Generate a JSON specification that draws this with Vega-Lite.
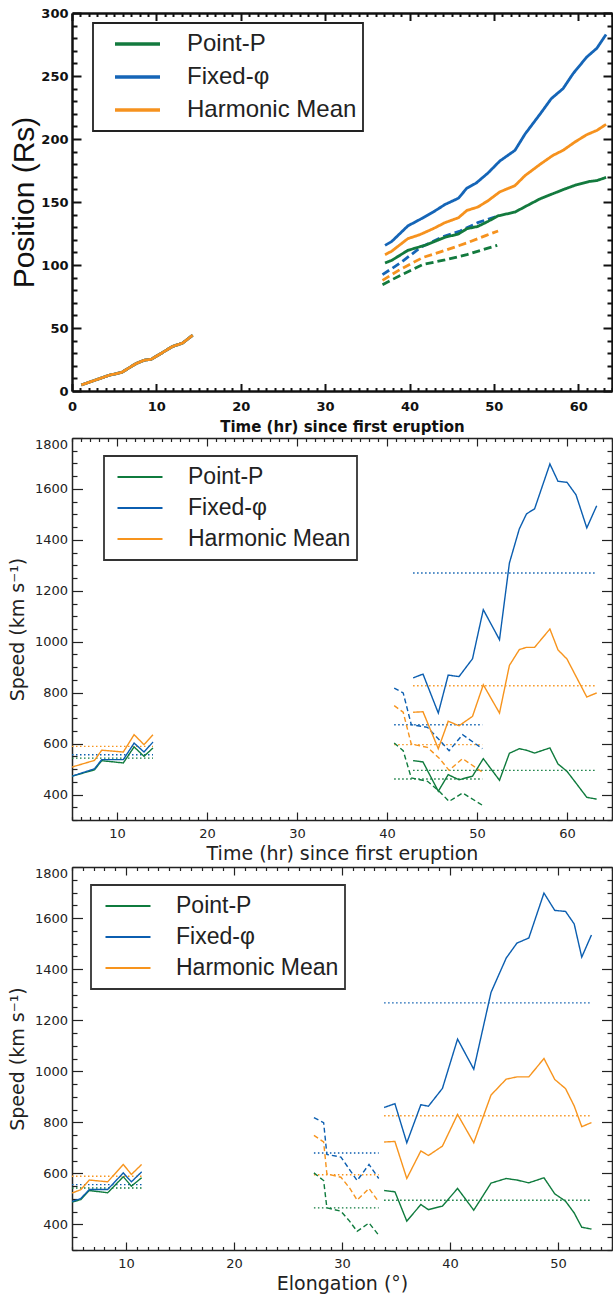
{
"$schema": "https://vega.github.io/schema/vega-lite/v6.json",
"padding": {"left": 8, "top": 7, "right": 0, "bottom": 0},
"spacing": 2,
"config": {"view": {"stroke": null}, "axis": {"grid": false}, "legend": {"strokeWidth": 1.8}},
"resolve": {"scale": {"color": "independent", "strokeDash": "independent"}},
"datasets": {
"p1": [
{"x":1.1,"y":4.8,"m":"Point-P","s":"solid","g":"e"},{"x":2.7,"y":8.5,"m":"Point-P","s":"solid","g":"e"},{"x":4.4,"y":12.5,"m":"Point-P","s":"solid","g":"e"},{"x":5.9,"y":14.8,"m":"Point-P","s":"solid","g":"e"},{"x":7.6,"y":21.8,"m":"Point-P","s":"solid","g":"e"},{"x":8.6,"y":24.5,"m":"Point-P","s":"solid","g":"e"},{"x":9.4,"y":25.2,"m":"Point-P","s":"solid","g":"e"},{"x":10.6,"y":30,"m":"Point-P","s":"solid","g":"e"},{"x":11.9,"y":35.3,"m":"Point-P","s":"solid","g":"e"},{"x":13.1,"y":38,"m":"Point-P","s":"solid","g":"e"},{"x":14.3,"y":44.3,"m":"Point-P","s":"solid","g":"e"},
{"x":1.1,"y":4.8,"m":"Fixed-φ","s":"solid","g":"e"},{"x":2.7,"y":8.5,"m":"Fixed-φ","s":"solid","g":"e"},{"x":4.4,"y":12.5,"m":"Fixed-φ","s":"solid","g":"e"},{"x":5.9,"y":14.8,"m":"Fixed-φ","s":"solid","g":"e"},{"x":7.6,"y":21.8,"m":"Fixed-φ","s":"solid","g":"e"},{"x":8.6,"y":24.5,"m":"Fixed-φ","s":"solid","g":"e"},{"x":9.4,"y":25.2,"m":"Fixed-φ","s":"solid","g":"e"},{"x":10.6,"y":30,"m":"Fixed-φ","s":"solid","g":"e"},{"x":11.9,"y":35.3,"m":"Fixed-φ","s":"solid","g":"e"},{"x":13.1,"y":38,"m":"Fixed-φ","s":"solid","g":"e"},{"x":14.3,"y":44.3,"m":"Fixed-φ","s":"solid","g":"e"},
{"x":1.1,"y":4.8,"m":"Harmonic Mean","s":"solid","g":"e"},{"x":2.7,"y":8.5,"m":"Harmonic Mean","s":"solid","g":"e"},{"x":4.4,"y":12.5,"m":"Harmonic Mean","s":"solid","g":"e"},{"x":5.9,"y":14.8,"m":"Harmonic Mean","s":"solid","g":"e"},{"x":7.6,"y":21.8,"m":"Harmonic Mean","s":"solid","g":"e"},{"x":8.6,"y":24.5,"m":"Harmonic Mean","s":"solid","g":"e"},{"x":9.4,"y":25.2,"m":"Harmonic Mean","s":"solid","g":"e"},{"x":10.6,"y":30,"m":"Harmonic Mean","s":"solid","g":"e"},{"x":11.9,"y":35.3,"m":"Harmonic Mean","s":"solid","g":"e"},{"x":13.1,"y":38,"m":"Harmonic Mean","s":"solid","g":"e"},{"x":14.3,"y":44.3,"m":"Harmonic Mean","s":"solid","g":"e"},
{"x":36.8,"y":84.4,"m":"Point-P","s":"dashed","g":"d"},{"x":38.9,"y":91.7,"m":"Point-P","s":"dashed","g":"d"},{"x":41.6,"y":100.5,"m":"Point-P","s":"dashed","g":"d"},{"x":44.2,"y":104,"m":"Point-P","s":"dashed","g":"d"},{"x":46.8,"y":108.2,"m":"Point-P","s":"dashed","g":"d"},{"x":49.1,"y":113,"m":"Point-P","s":"dashed","g":"d"},{"x":50.4,"y":115.6,"m":"Point-P","s":"dashed","g":"d"},
{"x":36.8,"y":92.3,"m":"Fixed-φ","s":"dashed","g":"d"},{"x":38.9,"y":101.6,"m":"Fixed-φ","s":"dashed","g":"d"},{"x":41.4,"y":114.3,"m":"Fixed-φ","s":"dashed","g":"d"},{"x":43.8,"y":122,"m":"Fixed-φ","s":"dashed","g":"d"},{"x":46.0,"y":127,"m":"Fixed-φ","s":"dashed","g":"d"},{"x":48.1,"y":133.6,"m":"Fixed-φ","s":"dashed","g":"d"},{"x":50.5,"y":139,"m":"Fixed-φ","s":"dashed","g":"d"},
{"x":36.8,"y":87.8,"m":"Harmonic Mean","s":"dashed","g":"d"},{"x":38.9,"y":96.5,"m":"Harmonic Mean","s":"dashed","g":"d"},{"x":41.6,"y":106,"m":"Harmonic Mean","s":"dashed","g":"d"},{"x":44.2,"y":111.6,"m":"Harmonic Mean","s":"dashed","g":"d"},{"x":46.8,"y":117.5,"m":"Harmonic Mean","s":"dashed","g":"d"},{"x":49.1,"y":123.5,"m":"Harmonic Mean","s":"dashed","g":"d"},{"x":50.5,"y":127,"m":"Harmonic Mean","s":"dashed","g":"d"},
{"x":37.1,"y":101.6,"m":"Point-P","s":"solid","g":"l"},{"x":37.9,"y":103.7,"m":"Point-P","s":"solid","g":"l"},{"x":39.8,"y":111.6,"m":"Point-P","s":"solid","g":"l"},{"x":42.0,"y":116,"m":"Point-P","s":"solid","g":"l"},{"x":44.2,"y":122,"m":"Point-P","s":"solid","g":"l"},{"x":45.8,"y":124.6,"m":"Point-P","s":"solid","g":"l"},{"x":46.8,"y":128.8,"m":"Point-P","s":"solid","g":"l"},{"x":48.1,"y":130.6,"m":"Point-P","s":"solid","g":"l"},{"x":49.3,"y":134.6,"m":"Point-P","s":"solid","g":"l"},{"x":50.5,"y":139,"m":"Point-P","s":"solid","g":"l"},{"x":52.5,"y":142,"m":"Point-P","s":"solid","g":"l"},{"x":53.9,"y":147,"m":"Point-P","s":"solid","g":"l"},{"x":55.5,"y":152.6,"m":"Point-P","s":"solid","g":"l"},{"x":57.0,"y":156.6,"m":"Point-P","s":"solid","g":"l"},{"x":58.2,"y":159.8,"m":"Point-P","s":"solid","g":"l"},{"x":59.8,"y":163.7,"m":"Point-P","s":"solid","g":"l"},{"x":61.3,"y":166.3,"m":"Point-P","s":"solid","g":"l"},{"x":62.2,"y":167,"m":"Point-P","s":"solid","g":"l"},{"x":63.3,"y":169.5,"m":"Point-P","s":"solid","g":"l"},
{"x":37.1,"y":115.6,"m":"Fixed-φ","s":"solid","g":"l"},{"x":37.9,"y":118.7,"m":"Fixed-φ","s":"solid","g":"l"},{"x":39.8,"y":131,"m":"Fixed-φ","s":"solid","g":"l"},{"x":41.2,"y":136,"m":"Fixed-φ","s":"solid","g":"l"},{"x":42.8,"y":142,"m":"Fixed-φ","s":"solid","g":"l"},{"x":44.2,"y":148,"m":"Fixed-φ","s":"solid","g":"l"},{"x":45.8,"y":153,"m":"Fixed-φ","s":"solid","g":"l"},{"x":46.8,"y":161,"m":"Fixed-φ","s":"solid","g":"l"},{"x":47.9,"y":165,"m":"Fixed-φ","s":"solid","g":"l"},{"x":49.3,"y":173,"m":"Fixed-φ","s":"solid","g":"l"},{"x":50.7,"y":182.5,"m":"Fixed-φ","s":"solid","g":"l"},{"x":52.5,"y":191,"m":"Fixed-φ","s":"solid","g":"l"},{"x":53.7,"y":204,"m":"Fixed-φ","s":"solid","g":"l"},{"x":55.5,"y":220,"m":"Fixed-φ","s":"solid","g":"l"},{"x":56.8,"y":232,"m":"Fixed-φ","s":"solid","g":"l"},{"x":58.2,"y":240,"m":"Fixed-φ","s":"solid","g":"l"},{"x":59.4,"y":252,"m":"Fixed-φ","s":"solid","g":"l"},{"x":61.0,"y":265,"m":"Fixed-φ","s":"solid","g":"l"},{"x":62.2,"y":272,"m":"Fixed-φ","s":"solid","g":"l"},{"x":63.3,"y":283,"m":"Fixed-φ","s":"solid","g":"l"},
{"x":37.1,"y":108.2,"m":"Harmonic Mean","s":"solid","g":"l"},{"x":37.9,"y":111,"m":"Harmonic Mean","s":"solid","g":"l"},{"x":39.8,"y":120.9,"m":"Harmonic Mean","s":"solid","g":"l"},{"x":41.2,"y":124,"m":"Harmonic Mean","s":"solid","g":"l"},{"x":42.8,"y":128.8,"m":"Harmonic Mean","s":"solid","g":"l"},{"x":44.2,"y":133.6,"m":"Harmonic Mean","s":"solid","g":"l"},{"x":45.8,"y":137.5,"m":"Harmonic Mean","s":"solid","g":"l"},{"x":46.8,"y":143.3,"m":"Harmonic Mean","s":"solid","g":"l"},{"x":48.1,"y":146,"m":"Harmonic Mean","s":"solid","g":"l"},{"x":49.3,"y":151,"m":"Harmonic Mean","s":"solid","g":"l"},{"x":50.7,"y":158,"m":"Harmonic Mean","s":"solid","g":"l"},{"x":52.5,"y":163,"m":"Harmonic Mean","s":"solid","g":"l"},{"x":53.7,"y":171,"m":"Harmonic Mean","s":"solid","g":"l"},{"x":55.5,"y":180,"m":"Harmonic Mean","s":"solid","g":"l"},{"x":57.0,"y":187,"m":"Harmonic Mean","s":"solid","g":"l"},{"x":58.2,"y":191,"m":"Harmonic Mean","s":"solid","g":"l"},{"x":59.6,"y":197.6,"m":"Harmonic Mean","s":"solid","g":"l"},{"x":61.0,"y":203.4,"m":"Harmonic Mean","s":"solid","g":"l"},{"x":62.2,"y":206.8,"m":"Harmonic Mean","s":"solid","g":"l"},{"x":63.3,"y":211.6,"m":"Harmonic Mean","s":"solid","g":"l"}
],
"p2": [
{"x":5,"y":543,"m":"Point-P","s":"dotted","g":"ea"},{"x":14,"y":543,"m":"Point-P","s":"dotted","g":"ea"},
{"x":5,"y":556,"m":"Fixed-φ","s":"dotted","g":"ea"},{"x":14,"y":556,"m":"Fixed-φ","s":"dotted","g":"ea"},
{"x":5,"y":589,"m":"Harmonic Mean","s":"dotted","g":"ea"},{"x":14,"y":589,"m":"Harmonic Mean","s":"dotted","g":"ea"},
{"x":40.8,"y":461,"m":"Point-P","s":"dotted","g":"da"},{"x":50.6,"y":461,"m":"Point-P","s":"dotted","g":"da"},
{"x":40.8,"y":674,"m":"Fixed-φ","s":"dotted","g":"da"},{"x":50.6,"y":674,"m":"Fixed-φ","s":"dotted","g":"da"},
{"x":40.8,"y":596,"m":"Harmonic Mean","s":"dotted","g":"da"},{"x":50.6,"y":596,"m":"Harmonic Mean","s":"dotted","g":"da"},
{"x":42.9,"y":495,"m":"Point-P","s":"dotted","g":"la"},{"x":63.3,"y":495,"m":"Point-P","s":"dotted","g":"la"},
{"x":42.9,"y":1270,"m":"Fixed-φ","s":"dotted","g":"la"},{"x":63.3,"y":1270,"m":"Fixed-φ","s":"dotted","g":"la"},
{"x":42.9,"y":827,"m":"Harmonic Mean","s":"dotted","g":"la"},{"x":63.3,"y":827,"m":"Harmonic Mean","s":"dotted","g":"la"},
{"x":5.0,"y":472,"m":"Point-P","s":"solid","g":"e"},{"x":7.5,"y":497,"m":"Point-P","s":"solid","g":"e"},{"x":8.3,"y":533,"m":"Point-P","s":"solid","g":"e"},{"x":10.7,"y":524,"m":"Point-P","s":"solid","g":"e"},{"x":11.9,"y":587,"m":"Point-P","s":"solid","g":"e"},{"x":13.0,"y":550,"m":"Point-P","s":"solid","g":"e"},{"x":14.0,"y":583,"m":"Point-P","s":"solid","g":"e"},
{"x":5.0,"y":472,"m":"Fixed-φ","s":"solid","g":"e"},{"x":7.5,"y":501,"m":"Fixed-φ","s":"solid","g":"e"},{"x":8.3,"y":537,"m":"Fixed-φ","s":"solid","g":"e"},{"x":10.7,"y":537,"m":"Fixed-φ","s":"solid","g":"e"},{"x":11.9,"y":602,"m":"Fixed-φ","s":"solid","g":"e"},{"x":13.0,"y":567,"m":"Fixed-φ","s":"solid","g":"e"},{"x":14.0,"y":606,"m":"Fixed-φ","s":"solid","g":"e"},
{"x":5.0,"y":508,"m":"Harmonic Mean","s":"solid","g":"e"},{"x":7.5,"y":534,"m":"Harmonic Mean","s":"solid","g":"e"},{"x":8.3,"y":574,"m":"Harmonic Mean","s":"solid","g":"e"},{"x":10.7,"y":567,"m":"Harmonic Mean","s":"solid","g":"e"},{"x":11.9,"y":635,"m":"Harmonic Mean","s":"solid","g":"e"},{"x":13.0,"y":596,"m":"Harmonic Mean","s":"solid","g":"e"},{"x":14.0,"y":635,"m":"Harmonic Mean","s":"solid","g":"e"},
{"x":40.8,"y":602,"m":"Point-P","s":"dashed","g":"d"},{"x":41.8,"y":572,"m":"Point-P","s":"dashed","g":"d"},{"x":42.7,"y":465,"m":"Point-P","s":"dashed","g":"d"},{"x":44.5,"y":452,"m":"Point-P","s":"dashed","g":"d"},{"x":45.8,"y":413,"m":"Point-P","s":"dashed","g":"d"},{"x":46.9,"y":373,"m":"Point-P","s":"dashed","g":"d"},{"x":48.4,"y":406,"m":"Point-P","s":"dashed","g":"d"},{"x":50.6,"y":358,"m":"Point-P","s":"dashed","g":"d"},
{"x":40.8,"y":818,"m":"Fixed-φ","s":"dashed","g":"d"},{"x":41.8,"y":799,"m":"Fixed-φ","s":"dashed","g":"d"},{"x":42.7,"y":674,"m":"Fixed-φ","s":"dashed","g":"d"},{"x":44.5,"y":664,"m":"Fixed-φ","s":"dashed","g":"d"},{"x":45.8,"y":615,"m":"Fixed-φ","s":"dashed","g":"d"},{"x":46.9,"y":572,"m":"Fixed-φ","s":"dashed","g":"d"},{"x":48.4,"y":635,"m":"Fixed-φ","s":"dashed","g":"d"},{"x":50.6,"y":580,"m":"Fixed-φ","s":"dashed","g":"d"},
{"x":40.8,"y":749,"m":"Harmonic Mean","s":"dashed","g":"d"},{"x":41.8,"y":723,"m":"Harmonic Mean","s":"dashed","g":"d"},{"x":42.7,"y":598,"m":"Harmonic Mean","s":"dashed","g":"d"},{"x":44.5,"y":585,"m":"Harmonic Mean","s":"dashed","g":"d"},{"x":45.8,"y":543,"m":"Harmonic Mean","s":"dashed","g":"d"},{"x":46.9,"y":495,"m":"Harmonic Mean","s":"dashed","g":"d"},{"x":48.4,"y":541,"m":"Harmonic Mean","s":"dashed","g":"d"},{"x":50.6,"y":488,"m":"Harmonic Mean","s":"dashed","g":"d"},
{"x":42.9,"y":533,"m":"Point-P","s":"solid","g":"l"},{"x":44.0,"y":528,"m":"Point-P","s":"solid","g":"l"},{"x":45.7,"y":413,"m":"Point-P","s":"solid","g":"l"},{"x":46.8,"y":478,"m":"Point-P","s":"solid","g":"l"},{"x":48.0,"y":458,"m":"Point-P","s":"solid","g":"l"},{"x":49.5,"y":472,"m":"Point-P","s":"solid","g":"l"},{"x":50.7,"y":541,"m":"Point-P","s":"solid","g":"l"},{"x":52.5,"y":456,"m":"Point-P","s":"solid","g":"l"},{"x":53.6,"y":562,"m":"Point-P","s":"solid","g":"l"},{"x":54.7,"y":580,"m":"Point-P","s":"solid","g":"l"},{"x":55.5,"y":574,"m":"Point-P","s":"solid","g":"l"},{"x":56.4,"y":563,"m":"Point-P","s":"solid","g":"l"},{"x":58.1,"y":583,"m":"Point-P","s":"solid","g":"l"},{"x":59.0,"y":520,"m":"Point-P","s":"solid","g":"l"},{"x":60.0,"y":491,"m":"Point-P","s":"solid","g":"l"},{"x":61.0,"y":445,"m":"Point-P","s":"solid","g":"l"},{"x":62.2,"y":389,"m":"Point-P","s":"solid","g":"l"},{"x":63.3,"y":382,"m":"Point-P","s":"solid","g":"l"},
{"x":42.9,"y":858,"m":"Fixed-φ","s":"solid","g":"l"},{"x":44.0,"y":873,"m":"Fixed-φ","s":"solid","g":"l"},{"x":45.7,"y":720,"m":"Fixed-φ","s":"solid","g":"l"},{"x":46.8,"y":869,"m":"Fixed-φ","s":"solid","g":"l"},{"x":48.0,"y":863,"m":"Fixed-φ","s":"solid","g":"l"},{"x":49.5,"y":933,"m":"Fixed-φ","s":"solid","g":"l"},{"x":50.7,"y":1126,"m":"Fixed-φ","s":"solid","g":"l"},{"x":52.5,"y":1008,"m":"Fixed-φ","s":"solid","g":"l"},{"x":53.6,"y":1309,"m":"Fixed-φ","s":"solid","g":"l"},{"x":54.7,"y":1443,"m":"Fixed-φ","s":"solid","g":"l"},{"x":55.5,"y":1502,"m":"Fixed-φ","s":"solid","g":"l"},{"x":56.4,"y":1522,"m":"Fixed-φ","s":"solid","g":"l"},{"x":58.1,"y":1698,"m":"Fixed-φ","s":"solid","g":"l"},{"x":59.0,"y":1630,"m":"Fixed-φ","s":"solid","g":"l"},{"x":60.0,"y":1626,"m":"Fixed-φ","s":"solid","g":"l"},{"x":61.0,"y":1577,"m":"Fixed-φ","s":"solid","g":"l"},{"x":62.2,"y":1447,"m":"Fixed-φ","s":"solid","g":"l"},{"x":63.3,"y":1534,"m":"Fixed-φ","s":"solid","g":"l"},
{"x":42.9,"y":723,"m":"Harmonic Mean","s":"solid","g":"l"},{"x":44.0,"y":725,"m":"Harmonic Mean","s":"solid","g":"l"},{"x":45.7,"y":580,"m":"Harmonic Mean","s":"solid","g":"l"},{"x":46.8,"y":688,"m":"Harmonic Mean","s":"solid","g":"l"},{"x":48.0,"y":670,"m":"Harmonic Mean","s":"solid","g":"l"},{"x":49.5,"y":707,"m":"Harmonic Mean","s":"solid","g":"l"},{"x":50.7,"y":831,"m":"Harmonic Mean","s":"solid","g":"l"},{"x":52.5,"y":720,"m":"Harmonic Mean","s":"solid","g":"l"},{"x":53.6,"y":907,"m":"Harmonic Mean","s":"solid","g":"l"},{"x":54.7,"y":969,"m":"Harmonic Mean","s":"solid","g":"l"},{"x":55.5,"y":978,"m":"Harmonic Mean","s":"solid","g":"l"},{"x":56.4,"y":978,"m":"Harmonic Mean","s":"solid","g":"l"},{"x":58.1,"y":1050,"m":"Harmonic Mean","s":"solid","g":"l"},{"x":59.0,"y":968,"m":"Harmonic Mean","s":"solid","g":"l"},{"x":60.0,"y":932,"m":"Harmonic Mean","s":"solid","g":"l"},{"x":61.0,"y":864,"m":"Harmonic Mean","s":"solid","g":"l"},{"x":62.2,"y":783,"m":"Harmonic Mean","s":"solid","g":"l"},{"x":63.3,"y":799,"m":"Harmonic Mean","s":"solid","g":"l"}
],
"p3": [
{"x":5,"y":543,"m":"Point-P","s":"dotted","g":"ea"},{"x":11.45,"y":543,"m":"Point-P","s":"dotted","g":"ea"},
{"x":5,"y":556,"m":"Fixed-φ","s":"dotted","g":"ea"},{"x":11.45,"y":556,"m":"Fixed-φ","s":"dotted","g":"ea"},
{"x":5,"y":589,"m":"Harmonic Mean","s":"dotted","g":"ea"},{"x":11.45,"y":589,"m":"Harmonic Mean","s":"dotted","g":"ea"},
{"x":27.4,"y":465,"m":"Point-P","s":"dotted","g":"da"},{"x":33.4,"y":465,"m":"Point-P","s":"dotted","g":"da"},
{"x":27.4,"y":680,"m":"Fixed-φ","s":"dotted","g":"da"},{"x":33.4,"y":680,"m":"Fixed-φ","s":"dotted","g":"da"},
{"x":27.4,"y":595,"m":"Harmonic Mean","s":"dotted","g":"da"},{"x":33.4,"y":595,"m":"Harmonic Mean","s":"dotted","g":"da"},
{"x":33.9,"y":495,"m":"Point-P","s":"dotted","g":"la"},{"x":53.1,"y":495,"m":"Point-P","s":"dotted","g":"la"},
{"x":33.9,"y":1268,"m":"Fixed-φ","s":"dotted","g":"la"},{"x":53.1,"y":1268,"m":"Fixed-φ","s":"dotted","g":"la"},
{"x":33.9,"y":826,"m":"Harmonic Mean","s":"dotted","g":"la"},{"x":53.1,"y":826,"m":"Harmonic Mean","s":"dotted","g":"la"},
{"x":5.0,"y":488,"m":"Point-P","s":"solid","g":"e"},{"x":5.8,"y":497,"m":"Point-P","s":"solid","g":"e"},{"x":6.6,"y":533,"m":"Point-P","s":"solid","g":"e"},{"x":8.3,"y":524,"m":"Point-P","s":"solid","g":"e"},{"x":9.75,"y":587,"m":"Point-P","s":"solid","g":"e"},{"x":10.5,"y":550,"m":"Point-P","s":"solid","g":"e"},{"x":11.45,"y":583,"m":"Point-P","s":"solid","g":"e"},
{"x":5.0,"y":490,"m":"Fixed-φ","s":"solid","g":"e"},{"x":5.8,"y":501,"m":"Fixed-φ","s":"solid","g":"e"},{"x":6.6,"y":537,"m":"Fixed-φ","s":"solid","g":"e"},{"x":8.3,"y":537,"m":"Fixed-φ","s":"solid","g":"e"},{"x":9.75,"y":602,"m":"Fixed-φ","s":"solid","g":"e"},{"x":10.5,"y":567,"m":"Fixed-φ","s":"solid","g":"e"},{"x":11.45,"y":606,"m":"Fixed-φ","s":"solid","g":"e"},
{"x":5.0,"y":523,"m":"Harmonic Mean","s":"solid","g":"e"},{"x":5.8,"y":536,"m":"Harmonic Mean","s":"solid","g":"e"},{"x":6.6,"y":574,"m":"Harmonic Mean","s":"solid","g":"e"},{"x":8.3,"y":567,"m":"Harmonic Mean","s":"solid","g":"e"},{"x":9.75,"y":635,"m":"Harmonic Mean","s":"solid","g":"e"},{"x":10.5,"y":596,"m":"Harmonic Mean","s":"solid","g":"e"},{"x":11.45,"y":635,"m":"Harmonic Mean","s":"solid","g":"e"},
{"x":27.4,"y":602,"m":"Point-P","s":"dashed","g":"d"},{"x":28.3,"y":572,"m":"Point-P","s":"dashed","g":"d"},{"x":28.6,"y":465,"m":"Point-P","s":"dashed","g":"d"},{"x":29.9,"y":452,"m":"Point-P","s":"dashed","g":"d"},{"x":30.7,"y":413,"m":"Point-P","s":"dashed","g":"d"},{"x":31.4,"y":373,"m":"Point-P","s":"dashed","g":"d"},{"x":32.5,"y":406,"m":"Point-P","s":"dashed","g":"d"},{"x":33.4,"y":358,"m":"Point-P","s":"dashed","g":"d"},
{"x":27.4,"y":818,"m":"Fixed-φ","s":"dashed","g":"d"},{"x":28.3,"y":799,"m":"Fixed-φ","s":"dashed","g":"d"},{"x":28.6,"y":674,"m":"Fixed-φ","s":"dashed","g":"d"},{"x":29.9,"y":664,"m":"Fixed-φ","s":"dashed","g":"d"},{"x":30.7,"y":615,"m":"Fixed-φ","s":"dashed","g":"d"},{"x":31.4,"y":572,"m":"Fixed-φ","s":"dashed","g":"d"},{"x":32.5,"y":635,"m":"Fixed-φ","s":"dashed","g":"d"},{"x":33.4,"y":580,"m":"Fixed-φ","s":"dashed","g":"d"},
{"x":27.4,"y":749,"m":"Harmonic Mean","s":"dashed","g":"d"},{"x":28.3,"y":723,"m":"Harmonic Mean","s":"dashed","g":"d"},{"x":28.6,"y":598,"m":"Harmonic Mean","s":"dashed","g":"d"},{"x":29.9,"y":585,"m":"Harmonic Mean","s":"dashed","g":"d"},{"x":30.7,"y":543,"m":"Harmonic Mean","s":"dashed","g":"d"},{"x":31.4,"y":495,"m":"Harmonic Mean","s":"dashed","g":"d"},{"x":32.5,"y":541,"m":"Harmonic Mean","s":"dashed","g":"d"},{"x":33.4,"y":488,"m":"Harmonic Mean","s":"dashed","g":"d"},
{"x":33.9,"y":533,"m":"Point-P","s":"solid","g":"l"},{"x":34.9,"y":528,"m":"Point-P","s":"solid","g":"l"},{"x":36.0,"y":413,"m":"Point-P","s":"solid","g":"l"},{"x":37.3,"y":478,"m":"Point-P","s":"solid","g":"l"},{"x":38.0,"y":458,"m":"Point-P","s":"solid","g":"l"},{"x":39.3,"y":472,"m":"Point-P","s":"solid","g":"l"},{"x":40.7,"y":541,"m":"Point-P","s":"solid","g":"l"},{"x":42.2,"y":456,"m":"Point-P","s":"solid","g":"l"},{"x":43.8,"y":562,"m":"Point-P","s":"solid","g":"l"},{"x":45.2,"y":580,"m":"Point-P","s":"solid","g":"l"},{"x":46.2,"y":574,"m":"Point-P","s":"solid","g":"l"},{"x":47.3,"y":563,"m":"Point-P","s":"solid","g":"l"},{"x":48.7,"y":583,"m":"Point-P","s":"solid","g":"l"},{"x":49.7,"y":520,"m":"Point-P","s":"solid","g":"l"},{"x":50.7,"y":491,"m":"Point-P","s":"solid","g":"l"},{"x":51.5,"y":445,"m":"Point-P","s":"solid","g":"l"},{"x":52.2,"y":389,"m":"Point-P","s":"solid","g":"l"},{"x":53.1,"y":382,"m":"Point-P","s":"solid","g":"l"},
{"x":33.9,"y":858,"m":"Fixed-φ","s":"solid","g":"l"},{"x":34.9,"y":873,"m":"Fixed-φ","s":"solid","g":"l"},{"x":36.0,"y":720,"m":"Fixed-φ","s":"solid","g":"l"},{"x":37.3,"y":869,"m":"Fixed-φ","s":"solid","g":"l"},{"x":38.0,"y":863,"m":"Fixed-φ","s":"solid","g":"l"},{"x":39.3,"y":933,"m":"Fixed-φ","s":"solid","g":"l"},{"x":40.7,"y":1126,"m":"Fixed-φ","s":"solid","g":"l"},{"x":42.2,"y":1008,"m":"Fixed-φ","s":"solid","g":"l"},{"x":43.8,"y":1309,"m":"Fixed-φ","s":"solid","g":"l"},{"x":45.2,"y":1443,"m":"Fixed-φ","s":"solid","g":"l"},{"x":46.2,"y":1502,"m":"Fixed-φ","s":"solid","g":"l"},{"x":47.3,"y":1522,"m":"Fixed-φ","s":"solid","g":"l"},{"x":48.7,"y":1698,"m":"Fixed-φ","s":"solid","g":"l"},{"x":49.7,"y":1630,"m":"Fixed-φ","s":"solid","g":"l"},{"x":50.7,"y":1626,"m":"Fixed-φ","s":"solid","g":"l"},{"x":51.5,"y":1577,"m":"Fixed-φ","s":"solid","g":"l"},{"x":52.2,"y":1447,"m":"Fixed-φ","s":"solid","g":"l"},{"x":53.1,"y":1534,"m":"Fixed-φ","s":"solid","g":"l"},
{"x":33.9,"y":723,"m":"Harmonic Mean","s":"solid","g":"l"},{"x":34.9,"y":725,"m":"Harmonic Mean","s":"solid","g":"l"},{"x":36.0,"y":580,"m":"Harmonic Mean","s":"solid","g":"l"},{"x":37.3,"y":688,"m":"Harmonic Mean","s":"solid","g":"l"},{"x":38.0,"y":670,"m":"Harmonic Mean","s":"solid","g":"l"},{"x":39.3,"y":707,"m":"Harmonic Mean","s":"solid","g":"l"},{"x":40.7,"y":831,"m":"Harmonic Mean","s":"solid","g":"l"},{"x":42.2,"y":720,"m":"Harmonic Mean","s":"solid","g":"l"},{"x":43.8,"y":907,"m":"Harmonic Mean","s":"solid","g":"l"},{"x":45.2,"y":969,"m":"Harmonic Mean","s":"solid","g":"l"},{"x":46.2,"y":978,"m":"Harmonic Mean","s":"solid","g":"l"},{"x":47.3,"y":978,"m":"Harmonic Mean","s":"solid","g":"l"},{"x":48.7,"y":1050,"m":"Harmonic Mean","s":"solid","g":"l"},{"x":49.7,"y":968,"m":"Harmonic Mean","s":"solid","g":"l"},{"x":50.7,"y":932,"m":"Harmonic Mean","s":"solid","g":"l"},{"x":51.5,"y":864,"m":"Harmonic Mean","s":"solid","g":"l"},{"x":52.2,"y":783,"m":"Harmonic Mean","s":"solid","g":"l"},{"x":53.1,"y":799,"m":"Harmonic Mean","s":"solid","g":"l"}
]
},
"vconcat": [
{
"width": 540, "height": 378,
"data": {"name": "p1"},
"layer": [
{
"mark": {"type": "line", "strokeWidth": 2.8, "clip": true},
"encoding": {
"x": {"field": "x", "type": "quantitative", "scale": {"domain": [0, 64], "nice": false, "zero": false},
 "axis": {"orient": "bottom", "values": [0,1,2,3,4,5,6,7,8,9,10,11,12,13,14,15,16,17,18,19,20,21,22,23,24,25,26,27,28,29,30,31,32,33,34,35,36,37,38,39,40,41,42,43,44,45,46,47,48,49,50,51,52,53,54,55,56,57,58,59,60,61,62,63,64],
  "format": "d", "labelExpr": "datum.value % 10 === 0 ? datum.label : ''", "labelOverlap": false, "labelFlush": false,
  "tickSize": {"condition": {"test": "datum.value % 10 === 0", "value": -7.5}, "value": -3.5},
  "tickWidth": 2, "tickColor": "#111", "domainColor": "#111", "domainWidth": 2.5,
  "labelFont": "DejaVu Sans", "labelFontWeight": "bold", "labelFontSize": 13, "labelColor": "#111", "labelPadding": 17,
  "title": "Time (hr) since first eruption", "titleFont": "DejaVu Sans", "titleFontWeight": "bold", "titleFontSize": 15, "titleColor": "#111", "titlePadding": 2}},
"y": {"field": "y", "type": "quantitative", "scale": {"domain": [0, 300], "nice": false},
 "axis": {"orient": "left", "values": [0,10,20,30,40,50,60,70,80,90,100,110,120,130,140,150,160,170,180,190,200,210,220,230,240,250,260,270,280,290,300],
  "format": "d", "labelExpr": "datum.value % 50 === 0 ? datum.label : ''", "labelOverlap": false, "labelFlush": false,
  "tickSize": {"condition": {"test": "datum.value % 50 === 0", "value": -9}, "value": -5},
  "tickWidth": 2, "tickColor": "#111", "domainColor": "#111", "domainWidth": 2.5,
  "labelFont": "DejaVu Sans", "labelFontWeight": "bold", "labelFontSize": 13, "labelColor": "#111", "labelPadding": 13,
  "title": "Position (Rs)", "titleFont": "Liberation Sans", "titleFontWeight": "normal", "titleFontSize": 30, "titleColor": "#111", "titlePadding": 1}},
"color": {"field": "m", "type": "nominal",
 "scale": {"domain": ["Point-P", "Fixed-φ", "Harmonic Mean"], "range": ["#137a3e", "#1565b7", "#f6921e"]},
 "legend": {"title": null, "orient": "none", "legendX": 21, "legendY": 10, "strokeColor": "#222", "padding": 6,
  "symbolType": "stroke", "symbolSize": 2025, "symbolStrokeWidth": 3.5, "symbolOffset": 14, "labelOffset": 25,
  "labelFont": "Liberation Sans", "labelFontSize": 24, "labelColor": "#222", "labelLimit": 400, "clipHeight": 30, "rowPadding": 3}},
"strokeDash": {"field": "s", "type": "nominal", "scale": {"domain": ["solid", "dashed"], "range": [[1, 0], [8, 4]]}, "legend": null},
"detail": {"field": "g"}
}
},
{
"mark": {"type": "point", "opacity": 0},
"encoding": {
"x": {"field": "x", "type": "quantitative",
 "axis": {"orient": "top", "values": [0,1,2,3,4,5,6,7,8,9,10,11,12,13,14,15,16,17,18,19,20,21,22,23,24,25,26,27,28,29,30,31,32,33,34,35,36,37,38,39,40,41,42,43,44,45,46,47,48,49,50,51,52,53,54,55,56,57,58,59,60,61,62,63,64],
  "labels": false, "title": null,
  "tickSize": {"condition": {"test": "datum.value % 10 === 0", "value": -7.5}, "value": -3.5},
  "tickWidth": 2, "tickColor": "#111", "domainColor": "#111", "domainWidth": 2.5}},
"y": {"field": "y", "type": "quantitative",
 "axis": {"orient": "right", "values": [0,10,20,30,40,50,60,70,80,90,100,110,120,130,140,150,160,170,180,190,200,210,220,230,240,250,260,270,280,290,300],
  "labels": false, "title": null,
  "tickSize": {"condition": {"test": "datum.value % 50 === 0", "value": -9}, "value": -5},
  "tickWidth": 2, "tickColor": "#111", "domainColor": "#111", "domainWidth": 2.5}}
}
}
],
"resolve": {"axis": {"x": "independent", "y": "independent"}}
},
{
"width": 540, "height": 382,
"data": {"name": "p2"},
"layer": [
{
"mark": {"type": "line", "strokeWidth": 1.4, "clip": true},
"encoding": {
"x": {"field": "x", "type": "quantitative", "scale": {"domain": [5, 65], "nice": false, "zero": false},
 "axis": {"orient": "bottom", "values": [5,6,7,8,9,10,11,12,13,14,15,16,17,18,19,20,21,22,23,24,25,26,27,28,29,30,31,32,33,34,35,36,37,38,39,40,41,42,43,44,45,46,47,48,49,50,51,52,53,54,55,56,57,58,59,60,61,62,63,64,65],
  "format": "d", "labelExpr": "datum.value % 10 === 0 ? datum.label : ''", "labelOverlap": false, "labelFlush": false,
  "tickSize": {"condition": {"test": "datum.value % 10 === 0", "value": -8}, "value": -3.5},
  "tickWidth": 1.2, "tickColor": "#222", "domainColor": "#222", "domainWidth": 1.5,
  "labelFont": "DejaVu Sans", "labelFontSize": 13, "labelColor": "#222", "labelPadding": 15,
  "title": "Time (hr) since first eruption", "titleFont": "DejaVu Sans", "titleFontWeight": "normal", "titleFontSize": 19, "titleColor": "#222", "titlePadding": 0}},
"y": {"field": "y", "type": "quantitative", "scale": {"domain": [300, 1800], "nice": false, "zero": false},
 "axis": {"orient": "left", "values": [300,350,400,450,500,550,600,650,700,750,800,850,900,950,1000,1050,1100,1150,1200,1250,1300,1350,1400,1450,1500,1550,1600,1650,1700,1750,1800],
  "format": "d", "labelExpr": "datum.value % 200 === 0 ? datum.label : ''", "labelOverlap": false, "labelFlush": true,
  "tickSize": {"condition": {"test": "datum.value % 200 === 0", "value": -10.5}, "value": -5},
  "tickWidth": 1.2, "tickColor": "#222", "domainColor": "#222", "domainWidth": 1.5,
  "labelFont": "DejaVu Sans", "labelFontSize": 13, "labelColor": "#222", "labelPadding": 15,
  "title": "Speed (km s⁻¹)", "titleFont": "DejaVu Sans", "titleFontWeight": "normal", "titleFontSize": 19, "titleColor": "#222", "titlePadding": 7}},
"color": {"field": "m", "type": "nominal",
 "scale": {"domain": ["Point-P", "Fixed-φ", "Harmonic Mean"], "range": ["#0f7b3d", "#0b5eb0", "#f7941d"]},
 "legend": {"title": null, "orient": "none", "legendX": 32, "legendY": 18, "strokeColor": "#333", "padding": 6,
  "symbolType": "stroke", "symbolSize": 2025, "symbolStrokeWidth": 2.2, "symbolOffset": 6, "labelOffset": 24,
  "labelFont": "Liberation Sans", "labelFontSize": 23, "labelColor": "#222", "labelLimit": 400, "clipHeight": 30, "rowPadding": 1}},
"strokeDash": {"field": "s", "type": "nominal", "scale": {"domain": ["solid", "dashed", "dotted"], "range": [[1, 0], [5, 3], [1.5, 2.5]]}, "legend": null},
"detail": {"field": "g"}
}
},
{
"mark": {"type": "point", "opacity": 0},
"encoding": {
"x": {"field": "x", "type": "quantitative",
 "axis": {"orient": "top", "values": [5,6,7,8,9,10,11,12,13,14,15,16,17,18,19,20,21,22,23,24,25,26,27,28,29,30,31,32,33,34,35,36,37,38,39,40,41,42,43,44,45,46,47,48,49,50,51,52,53,54,55,56,57,58,59,60,61,62,63,64,65],
  "labels": false, "title": null,
  "tickSize": {"condition": {"test": "datum.value % 10 === 0", "value": -8}, "value": -3.5},
  "tickWidth": 1.2, "tickColor": "#222", "domainColor": "#222", "domainWidth": 1.5}},
"y": {"field": "y", "type": "quantitative",
 "axis": {"orient": "right", "values": [300,350,400,450,500,550,600,650,700,750,800,850,900,950,1000,1050,1100,1150,1200,1250,1300,1350,1400,1450,1500,1550,1600,1650,1700,1750,1800],
  "labels": false, "title": null,
  "tickSize": {"condition": {"test": "datum.value % 200 === 0", "value": -10.5}, "value": -5},
  "tickWidth": 1.2, "tickColor": "#222", "domainColor": "#222", "domainWidth": 1.5}}
}
}
],
"resolve": {"axis": {"x": "independent", "y": "independent"}}
},
{
"width": 540, "height": 383,
"data": {"name": "p3"},
"layer": [
{
"mark": {"type": "line", "strokeWidth": 1.4, "clip": true},
"encoding": {
"x": {"field": "x", "type": "quantitative", "scale": {"domain": [5, 55], "nice": false, "zero": false},
 "axis": {"orient": "bottom", "values": [5,6,7,8,9,10,11,12,13,14,15,16,17,18,19,20,21,22,23,24,25,26,27,28,29,30,31,32,33,34,35,36,37,38,39,40,41,42,43,44,45,46,47,48,49,50,51,52,53,54,55],
  "format": "d", "labelExpr": "datum.value % 10 === 0 ? datum.label : ''", "labelOverlap": false, "labelFlush": false,
  "tickSize": {"condition": {"test": "datum.value % 10 === 0", "value": -8}, "value": -3.5},
  "tickWidth": 1.2, "tickColor": "#222", "domainColor": "#222", "domainWidth": 1.5,
  "labelFont": "DejaVu Sans", "labelFontSize": 13, "labelColor": "#222", "labelPadding": 15,
  "title": "Elongation (°)", "titleFont": "DejaVu Sans", "titleFontWeight": "normal", "titleFontSize": 19, "titleColor": "#222", "titlePadding": 0}},
"y": {"field": "y", "type": "quantitative", "scale": {"domain": [300, 1800], "nice": false, "zero": false},
 "axis": {"orient": "left", "values": [300,350,400,450,500,550,600,650,700,750,800,850,900,950,1000,1050,1100,1150,1200,1250,1300,1350,1400,1450,1500,1550,1600,1650,1700,1750,1800],
  "format": "d", "labelExpr": "datum.value % 200 === 0 ? datum.label : ''", "labelOverlap": false, "labelFlush": true,
  "tickSize": {"condition": {"test": "datum.value % 200 === 0", "value": -10.5}, "value": -5},
  "tickWidth": 1.2, "tickColor": "#222", "domainColor": "#222", "domainWidth": 1.5,
  "labelFont": "DejaVu Sans", "labelFontSize": 13, "labelColor": "#222", "labelPadding": 15,
  "title": "Speed (km s⁻¹)", "titleFont": "DejaVu Sans", "titleFontWeight": "normal", "titleFontSize": 19, "titleColor": "#222", "titlePadding": 7}},
"color": {"field": "m", "type": "nominal",
 "scale": {"domain": ["Point-P", "Fixed-φ", "Harmonic Mean"], "range": ["#0f7b3d", "#0b5eb0", "#f7941d"]},
 "legend": {"title": null, "orient": "none", "legendX": 19, "legendY": 18, "strokeColor": "#333", "padding": 6,
  "symbolType": "stroke", "symbolSize": 2025, "symbolStrokeWidth": 2.2, "symbolOffset": 7, "labelOffset": 24,
  "labelFont": "Liberation Sans", "labelFontSize": 23, "labelColor": "#222", "labelLimit": 400, "clipHeight": 30, "rowPadding": 1}},
"strokeDash": {"field": "s", "type": "nominal", "scale": {"domain": ["solid", "dashed", "dotted"], "range": [[1, 0], [5, 3], [1.5, 2.5]]}, "legend": null},
"detail": {"field": "g"}
}
},
{
"mark": {"type": "point", "opacity": 0},
"encoding": {
"x": {"field": "x", "type": "quantitative",
 "axis": {"orient": "top", "values": [5,6,7,8,9,10,11,12,13,14,15,16,17,18,19,20,21,22,23,24,25,26,27,28,29,30,31,32,33,34,35,36,37,38,39,40,41,42,43,44,45,46,47,48,49,50,51,52,53,54,55],
  "labels": false, "title": null,
  "tickSize": {"condition": {"test": "datum.value % 10 === 0", "value": -8}, "value": -3.5},
  "tickWidth": 1.2, "tickColor": "#222", "domainColor": "#222", "domainWidth": 1.5}},
"y": {"field": "y", "type": "quantitative",
 "axis": {"orient": "right", "values": [300,350,400,450,500,550,600,650,700,750,800,850,900,950,1000,1050,1100,1150,1200,1250,1300,1350,1400,1450,1500,1550,1600,1650,1700,1750,1800],
  "labels": false, "title": null,
  "tickSize": {"condition": {"test": "datum.value % 200 === 0", "value": -10.5}, "value": -5},
  "tickWidth": 1.2, "tickColor": "#222", "domainColor": "#222", "domainWidth": 1.5}}
}
}
],
"resolve": {"axis": {"x": "independent", "y": "independent"}}
}
]
}
